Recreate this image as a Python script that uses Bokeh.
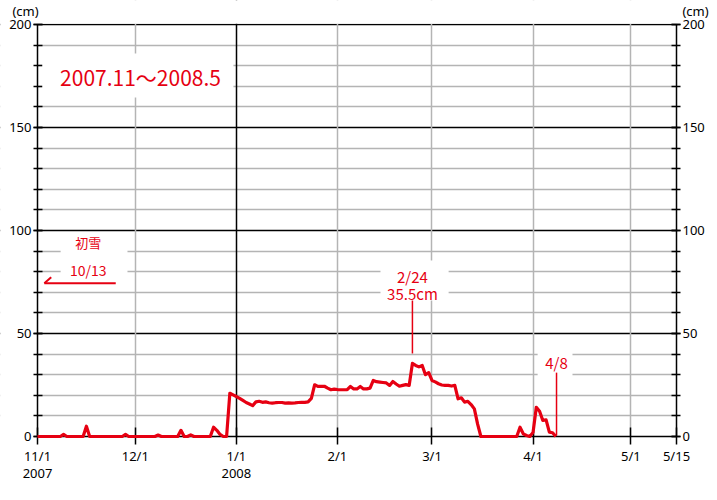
import pandas as pd
from bokeh.plotting import figure
from bokeh.models import (Range1d, LinearAxis, FixedTicker, Grid, Label,
                          ColumnDataSource, BoxAnnotation)
from bokeh.embed import file_html
from bokeh.resources import INLINE

FONT = "Noto Sans CJK JP"
TICK_FONT = "Noto Sans"
RED = "#e60012"

# Daily snow depth (cm), 2007-11-01 .. 2008-04-08
nov = [0, 0, 0, 0, 0, 0, 0, 0, 1, 0, 0, 0, 0, 0, 0, 5, 0, 0, 0, 0,
       0, 0, 0, 0, 0, 0, 0, 1, 0, 0]
dec = [0, 0, 0, 0, 0, 0, 0, 0.7, 0, 0, 0, 0, 0, 0, 3, 0, 0, 0.8, 0, 0,
       0, 0, 0, 0, 4.5, 3, 1, 0, 0, 21, 20.2]
jan = [19.4, 18.5, 17.5, 16.5, 15.8, 15, 16.8, 17.1, 16.6, 16.8, 16.4, 16.2,
       16.4, 16.5, 16.5, 16.2, 16.3, 16.2, 16.3, 16.5, 16.6, 16.6, 16.8, 18.5,
       25.1, 24.3, 24.3, 24.4, 23.5, 22.7, 23]
feb = [22.8, 22.7, 22.7, 22.7, 24.3, 23.1, 23.1, 24.3, 23.1, 23.1, 23.5, 27.2,
       26.6, 26.4, 26.2, 26, 24.8, 26.7, 25.5, 24.4, 24.8, 25.2, 24.8, 35.5,
       34.5, 33.8, 34.5, 30, 31]
mar = [27.2, 26.5, 25.6, 25, 24.8, 24.8, 24.5, 24.8, 18.3, 18.8, 16.7, 17.1,
       15.5, 13.4, 6, 0, 0, 0, 0, 0, 0, 0, 0, 0, 0, 0, 0, 4.5, 1.3, 0.5, 0]
apr = [2, 14.2, 12.3, 7.8, 8.1, 2.1, 1.8, 0]
depth = nov + dec + jan + feb + mar + apr

dates = pd.date_range("2007-11-01", periods=len(depth), freq="D")
start = pd.Timestamp("2007-11-01")
days = [(d - start).days for d in dates]

tick_dates = ["2007-11-01", "2007-12-01", "2008-01-01", "2008-02-01",
              "2008-03-01", "2008-04-01", "2008-05-01", "2008-05-15"]
tick_labels = ["11/1\n2007", "12/1", "1/1\n2008", "2/1", "3/1", "4/1", "5/1", "5/15"]
tick_days = [(pd.Timestamp(t) - start).days for t in tick_dates]

y_major = [0, 50, 100, 150, 200]
y_minor = list(range(0, 201, 10))

end_day = tick_days[-1]
Y_TOP = 200

# canvas geometry (pixels): plot box from (37, 24) to (676, 436)
W, H = 709, 492
BOX_L, BOX_R, BOX_T, BOX_B = 37, 676, 24, 436
px_day = (BOX_R - BOX_L) / end_day
px_cm = (BOX_B - BOX_T) / Y_TOP
x_range = Range1d(-BOX_L / px_day, (W - BOX_L) / px_day)
y_range = Range1d(-(H - BOX_B) / px_cm, BOX_B / px_cm)

p = figure(frame_width=W, frame_height=H, x_range=x_range, y_range=y_range,
           output_backend="svg", toolbar_location=None,
           min_border_left=0, min_border_right=0,
           min_border_top=0, min_border_bottom=0)
p.background_fill_color = "white"
p.border_fill_color = "white"
p.outline_line_color = None

p.xgrid.visible = False
p.ygrid.visible = False

GRAY = "#b4b4b4"
gray_y = [v for v in y_minor if v not in (0, 50, 100, 150, 200)]
p.add_layout(Grid(dimension=1, ticker=FixedTicker(ticks=gray_y), bounds=(0, end_day),
                  grid_line_color=GRAY, grid_line_width=1.5))
p.add_layout(Grid(dimension=1, ticker=FixedTicker(ticks=[50, 100, 150, 200]),
                  bounds=(0, end_day), grid_line_color="black", grid_line_width=1.5))
gray_x = [d for d in tick_days[1:-1] if d != tick_days[2]]
p.add_layout(Grid(dimension=0, ticker=FixedTicker(ticks=gray_x), bounds=(0, Y_TOP),
                  grid_line_color=GRAY, grid_line_width=1.5))
p.add_layout(Grid(dimension=0, ticker=FixedTicker(ticks=[tick_days[2]]),
                  bounds=(0, Y_TOP), grid_line_color="black", grid_line_width=1.5))

# white masks: keep grid lines inside the plot box only
ex = 0.8 / px_cm
exd = 0.8 / px_day
for kw in (dict(top=-ex), dict(bottom=Y_TOP + ex), dict(right=-exd),
           dict(left=end_day + exd)):
    p.add_layout(BoxAnnotation(fill_color="white", fill_alpha=1.0, line_color=None,
                               level="underlay", **kw))

# x axis
xa = p.xaxis[0]
xa.fixed_location = 0
xa.bounds = (0, end_day)
xa.ticker = FixedTicker(ticks=tick_days)
xa.major_label_overrides = {d: l for d, l in zip(tick_days, tick_labels)}
xa.axis_line_color = "black"
xa.axis_line_width = 1.5
xa.major_tick_in = 9
xa.major_tick_out = 8
xa.major_tick_line_width = 1.5
xa.minor_tick_line_color = None
xa.major_label_standoff = 2
xa.major_label_text_font = TICK_FONT
xa.major_label_text_font_size = "13px"
xa.major_label_text_line_height = 0.95
xa.major_label_text_color = "black"


def style_y(ax, loc):
    ax.fixed_location = loc
    ax.bounds = (0, Y_TOP)
    ax.ticker = FixedTicker(ticks=y_major, minor_ticks=y_minor)
    ax.axis_line_color = "black"
    ax.axis_line_width = 1.5
    ax.major_tick_in = 5
    ax.major_tick_out = 4
    ax.minor_tick_in = 5
    ax.minor_tick_out = 4
    ax.major_tick_line_width = 1.5
    ax.minor_tick_line_width = 1.5
    ax.minor_tick_line_color = "black"
    ax.major_label_standoff = 2
    ax.major_label_text_font = TICK_FONT
    ax.major_label_text_font_size = "13px"
    ax.major_label_text_color = "black"


style_y(p.yaxis[0], 0)
ra = LinearAxis()
style_y(ra, end_day)
p.add_layout(ra, "right")

src = ColumnDataSource(dict(day=days, depth=depth))
dl = p.line("day", "depth", source=src, line_color=RED, line_width=3.2,
            line_join="round")
dl.level = "overlay"

# (cm) unit labels
for px in (25, 695):
    p.add_layout(Label(x=(px - BOX_L) / px_day, y=(BOX_B - 10) / px_cm, text="(cm)",
                       text_align="center", text_baseline="middle",
                       text_font=TICK_FONT, text_font_size="13px",
                       text_color="black"))

# white boxes that break the grid behind the notes
for l, r, b, t in [(1.5, 60.1, 164.6, 185.9),
                   (7.1, 27.6, 75.4, 97.6),
                   (105.2, 126.1, 66.0, 85.4),
                   (153.4, 164.1, 27.2, 44.2)]:
    p.add_layout(BoxAnnotation(left=l, right=r, bottom=b, top=t,
                               fill_color="white", fill_alpha=1.0,
                               line_color=None))


def note(x, y, text, size="14px"):
    p.add_layout(Label(x=x, y=y, text=text, text_align="center",
                       text_baseline="middle", text_font=FONT,
                       text_font_size=size, text_color=RED))


note(31.6, 174.3, "2007.11〜2008.5", "21px")
note(15.6, 94.2, "初雪", "13px")
note(15.6, 80.6, "10/13")
note(115, 77.6, "2/24", "15px")
note(115, 69.6, "35.5cm", "15px")
note(159.2, 35.9, "4/8", "15px")

arrow = p.segment(x0=[2.1, 2.1], y0=[74.4, 74.4], x1=[24.0, 4.2], y1=[74.4, 77.3],
                  line_color=RED, line_width=2)
arrow.level = "overlay"
mx = p.segment(x0=[115], y0=[40.3], x1=[115], y1=[66], line_color=RED, line_width=1.5)
mx.level = "overlay"
ls = p.segment(x0=[159.2], y0=[0.5], x1=[159.2], y1=[31], line_color=RED, line_width=1.5)
ls.level = "overlay"

open("out.html", "w").write(file_html(p, INLINE))
